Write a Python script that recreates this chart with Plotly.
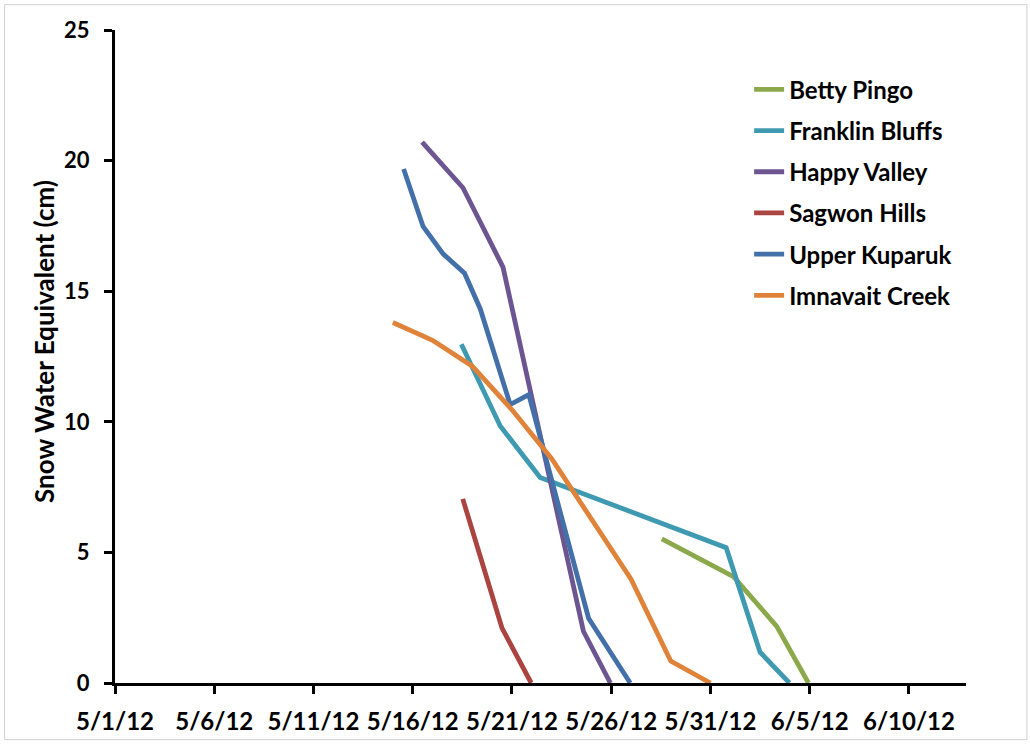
import plotly.graph_objects as go

# Snow water equivalent (cm) by site, spring 2012
betty_dates = ["2012-05-28 13:12", "2012-06-01 03:50", "2012-06-03 08:10", "2012-06-04 22:30"]
betty_swe = [5.52, 4.07, 2.17, 0.0]

franklin_dates = ["2012-05-18 10:48", "2012-05-20 09:50", "2012-05-22 10:05",
                  "2012-05-31 19:00", "2012-06-02 12:00", "2012-06-03 23:30"]
franklin_swe = [12.97, 9.84, 7.87, 5.18, 1.18, 0.0]

happy_dates = ["2012-05-16 11:20", "2012-05-18 12:45", "2012-05-20 13:10",
               "2012-05-24 14:24", "2012-05-25 23:00"]
happy_swe = [20.71, 18.96, 15.92, 1.98, 0.0]

sagwon_dates = ["2012-05-18 12:30", "2012-05-20 12:00", "2012-05-21 23:15"]
sagwon_swe = [7.05, 2.1, 0.0]

kuparuk_dates = ["2012-05-15 13:00", "2012-05-16 12:30", "2012-05-17 12:45",
                 "2012-05-18 14:40", "2012-05-19 09:36", "2012-05-20 21:50",
                 "2012-05-21 20:24", "2012-05-24 20:38", "2012-05-26 23:00"]
kuparuk_swe = [19.68, 17.48, 16.43, 15.69, 14.33, 10.66, 11.04, 2.48, 0.0]

imnavait_dates = ["2012-05-15", "2012-05-17", "2012-05-19", "2012-05-21", "2012-05-23",
                  "2012-05-25", "2012-05-27", "2012-05-29", "2012-05-31"]
imnavait_swe = [13.8, 13.12, 12.13, 10.46, 8.59, 6.31, 3.97, 0.84, 0.0]

series = [
    ("Betty Pingo", betty_dates, betty_swe, "#8BA94A"),
    ("Franklin Bluffs", franklin_dates, franklin_swe, "#3F9AB1"),
    ("Happy Valley", happy_dates, happy_swe, "#6C5591"),
    ("Sagwon Hills", sagwon_dates, sagwon_swe, "#A94440"),
    ("Upper Kuparuk", kuparuk_dates, kuparuk_swe, "#4470A9"),
    ("Imnavait Creek", imnavait_dates, imnavait_swe, "#E0833A"),
]

FONT = "Lato"

fig = go.Figure()
for name, x, y, color in series:
    fig.add_trace(go.Scatter(
        x=x, y=y, name=name, mode="lines", legendgroup=name,
        line=dict(color=color, width=4.8),
    ))

# plot area geometry (pixels)
L, R, T, B = 114.5, 966.0, 29.5, 687.0
W, H = 1030, 747
pw, ph = R - L, B - T

def px_to_paper_x(px):
    return (px - L) / pw

def px_to_paper_y(py):
    return (B - py) / ph

fig.update_layout(
    width=W, height=H,
    margin=dict(l=L, r=W - R, t=T, b=H - B, pad=0),
    paper_bgcolor="white", plot_bgcolor="white",
    font=dict(family=FONT, size=20, color="black", weight="bold"),
    showlegend=True,
    legend=dict(
        x=px_to_paper_x(749), y=px_to_paper_y(67), xanchor="left", yanchor="top",
        traceorder="grouped", tracegroupgap=7,
        font=dict(family=FONT, size=24, color="black", weight="bold"),
        bgcolor="rgba(0,0,0,0)", itemwidth=30,
    ),
    xaxis=dict(
        type="date",
        range=["2012-05-01", "2012-06-12 21:00"],
        tick0="2012-05-01", dtick=5 * 86400000,
        tickformat="%-m/%-d/%y",
        showgrid=False, zeroline=False,
        showline=True, linecolor="black", linewidth=3,
        ticks="outside", ticklen=8, tickwidth=3, tickcolor="black",
        tickfont=dict(family=FONT, size=24, color="black", weight="bold"),
        ticklabelstandoff=7,
    ),
    yaxis=dict(
        range=[0, 25], tick0=0, dtick=5,
        showgrid=False, zeroline=False,
        showline=True, linecolor="black", linewidth=3,
        ticks="outside", ticklen=8, tickwidth=3, tickcolor="black",
        tickfont=dict(family=FONT, size=22, color="black", weight="bold"),
        ticklabelstandoff=10,
    ),
    annotations=[dict(
        text="Snow Water Equivalent (cm)", textangle=-90,
        xref="paper", yref="paper",
        x=px_to_paper_x(44), y=px_to_paper_y(343),
        xanchor="center", yanchor="middle", showarrow=False,
        font=dict(family=FONT, size=26, color="black", weight="bold"),
    )],
    shapes=[dict(
        type="rect", xref="paper", yref="paper", layer="below",
        x0=px_to_paper_x(4), x1=px_to_paper_x(1027),
        y0=px_to_paper_y(744), y1=px_to_paper_y(4),
        line=dict(color="#D0D0D0", width=1), fillcolor="rgba(0,0,0,0)",
    )],
)

fig.write_html("out.html")
